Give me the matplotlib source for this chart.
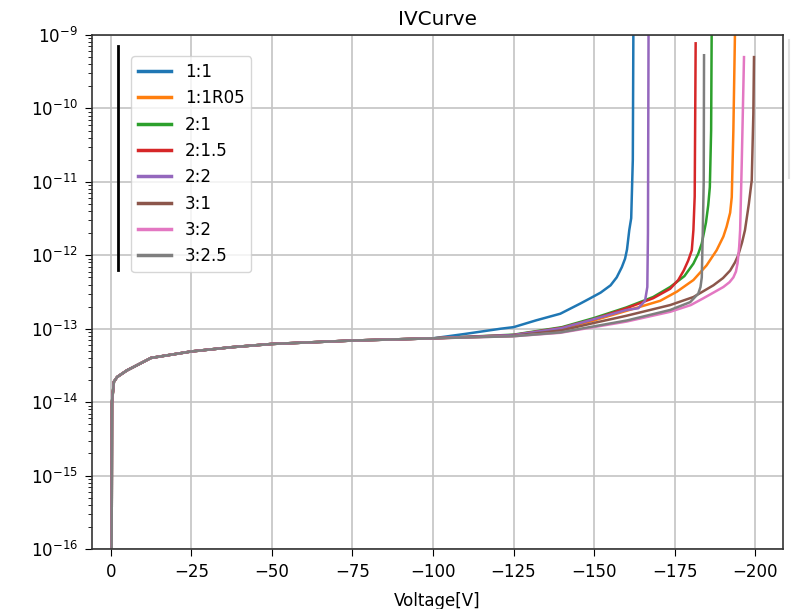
import numpy as np
import matplotlib
matplotlib.use("Agg")
from matplotlib import pyplot as plt
from matplotlib.lines import Line2D

plt.rcParams['font.size'] = 12

# common low-voltage part (all curves overlap here)
v_base = [-0.25, -0.4, -1.0, -2.0, -5.0, -12.5, -25, -37.5, -50, -75, -100]
i_base = [1e-17, 1.0e-14, 1.9e-14, 2.2e-14, 2.7e-14, 4.0e-14, 4.9e-14, 5.6e-14, 6.2e-14, 6.9e-14, 7.4e-14]

labels = ["1:1", "1:1R05", "2:1", "2:1.5", "2:2", "3:1", "3:2", "3:2.5"]

# breakdown tails, one per sample
v_11 = [-110, -121, -125, -132, -139.5, -145.7, -148.8, -152, -155.1, -157, -158.6, -159.6, -160.2, -160.9, -161.5, -162.0, -162.2]
i_11 = [8.5e-14, 1.0e-13, 1.05e-13, 1.3e-13, 1.6e-13, 2.2e-13, 2.6e-13, 3.1e-13, 3.9e-13, 5.0e-13, 6.9e-13, 9.0e-13, 1.2e-12, 2.2e-12, 3.2e-12, 2e-11, 2e-9]

v_11r = [-125, -140, -150, -160, -170.5, -175.7, -180.8, -184.9, -188.0, -190.1, -191.1, -192.2, -192.7, -193.2, -193.8]
i_11r = [8.0e-14, 1.0e-13, 1.3e-13, 1.75e-13, 2.4e-13, 3.2e-13, 4.6e-13, 7.3e-13, 1.17e-12, 1.8e-12, 2.45e-12, 3.8e-12, 6.2e-12, 5e-11, 2e-9]

v_21 = [-125, -140, -150, -160, -168.3, -173.6, -178, -180.8, -182.3, -183.4, -184.7, -185.4, -185.9, -186.3, -186.5]
i_21 = [8.3e-14, 1.05e-13, 1.4e-13, 1.95e-13, 2.7e-13, 3.7e-13, 5.2e-13, 7.7e-13, 1.05e-12, 1.45e-12, 2.8e-12, 4.8e-12, 8.5e-12, 5e-11, 2e-9]

v_215 = [-125, -140, -150, -160, -168.3, -173.6, -176.1, -177.8, -179.2, -180.3, -180.8, -181.2, -181.5]
i_215 = [8.2e-14, 1.03e-13, 1.35e-13, 1.9e-13, 2.6e-13, 3.5e-13, 4.6e-13, 6.2e-13, 8.5e-13, 1.17e-12, 2.2e-12, 6.3e-12, 7.7e-10]

v_22 = [-125, -140, -150, -160, -163.7, -165.8, -166.5, -166.7, -166.9]
i_22 = [8.2e-14, 1.02e-13, 1.35e-13, 1.8e-13, 1.9e-13, 2.4e-13, 3.7e-13, 2e-12, 2e-9]

v_31 = [-125, -140, -150, -160, -173.6, -180.8, -187.0, -190.0, -192.2, -193.7, -194.7, -195.9, -196.8, -198.0, -198.9, -199.4, -199.6]
i_31 = [8.0e-14, 9.5e-14, 1.2e-13, 1.5e-13, 2.1e-13, 2.7e-13, 3.9e-13, 4.9e-13, 6.2e-13, 8.0e-13, 1.0e-12, 1.5e-12, 2.2e-12, 5.0e-12, 1.05e-11, 8.5e-11, 5e-10]

v_32 = [-125, -139.5, -160, -173.6, -180, -183.9, -187.0, -190.1, -192.0, -193.2, -194.0, -194.5, -195.0, -195.3, -195.8, -196.5]
i_32 = [7.9e-14, 8.8e-14, 1.25e-13, 1.7e-13, 2.1e-13, 2.6e-13, 3.1e-13, 3.7e-13, 4.3e-13, 5e-13, 6.0e-13, 7.8e-13, 1.3e-12, 2.2e-12, 1.8e-11, 5e-10]

v_325 = [-125, -139.5, -160.3, -173.6, -179.8, -182.3, -183.0, -183.4, -183.7, -184.0, -184.1]
i_325 = [7.9e-14, 8.9e-14, 1.3e-13, 1.8e-13, 2.3e-13, 3e-13, 3.7e-13, 5e-13, 2e-12, 1e-11, 5.3e-10]

tails = [(v_11, i_11), (v_11r, i_11r), (v_21, i_21), (v_215, i_215),
         (v_22, i_22), (v_31, i_31), (v_32, i_32), (v_325, i_325)]

fig = plt.figure(figsize=(7.95, 6.09), dpi=100)
ax = fig.add_axes([92/795, 1-549/609, 691/795, 514/609])

for lab, (vt, it) in zip(labels, tails):
    v = [x for x in v_base if x > vt[0]] + vt
    i = [y for x, y in zip(v_base, i_base) if x > vt[0]] + it
    ax.plot(v, i, lw=1.8, label=lab)

ax.set_yscale('log')
ax.set_ylim(1e-16, 1e-9)
ax.set_xlim(5.8, -208.6)
ax.set_xticks([0, -25, -50, -75, -100, -125, -150, -175, -200])
ax.tick_params(which='major', length=5, pad=5)
ax.tick_params(which='minor', length=3)
for s in ax.spines.values():
    s.set_linewidth(1.2)
    s.set_color('#333333')
ax.grid(True, which='major', color='#c4c4c4', lw=1.2)
ax.set_title("IVCurve", fontsize=14.4, pad=7)
ax.set_xlabel("Voltage[V]", labelpad=8)
leg = ax.legend(loc='upper left', bbox_to_anchor=(0.045, 0.975), handlelength=2.0)
for h in leg.get_lines():
    h.set_linewidth(2.5)

# stray marks visible in the screenshot
fig.add_artist(Line2D([118/795, 118/795], [1-46/609, 1-270/609], color='black', lw=2))
fig.add_artist(Line2D([789/795, 789/795], [1-40/609, 1-178/609], color='#e0e0e0', lw=1.5))

fig.savefig("out.png", dpi=100)
